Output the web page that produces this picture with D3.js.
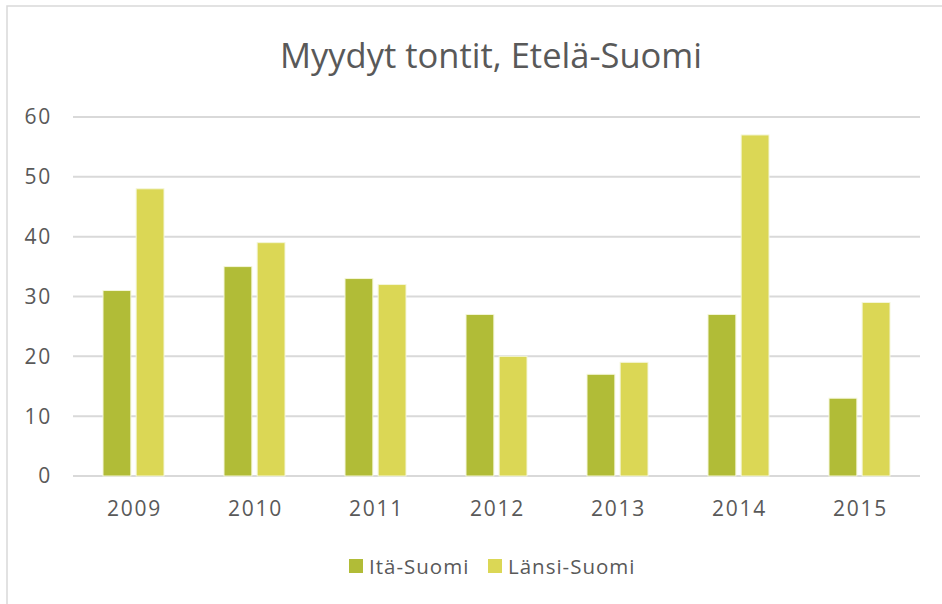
<!DOCTYPE html>
<html>
<head>
<meta charset="utf-8">
<script src="https://cdn.jsdelivr.net/npm/d3@7"></script>
<style>
  html, body { margin: 0; padding: 0; background: #fff; }
  svg { display: block; font-family: "Open Sans", "Noto Sans", sans-serif; }
</style>
</head>
<body>
<svg id="chart" width="942" height="604"></svg>
<script>
const years = ['2009', '2010', '2011', '2012', '2013', '2014', '2015'];
const seriesNames = ['Itä-Suomi', 'Länsi-Suomi'];
const itaSuomi = [31, 35, 33, 27, 17, 27, 13];
const lansiSuomi = [48, 39, 32, 20, 19, 57, 29];
const yTicks = [0, 10, 20, 30, 40, 50, 60];
const colors = ['#b1bc37', '#dbd755'];

const svg = d3.select('#chart');
const textColor = '#595959';

// outer frame
svg.append('rect')
  .attr('x', 7).attr('y', 6)
  .attr('width', 960).attr('height', 620)
  .attr('fill', 'none')
  .attr('stroke', '#d9d9d9')
  .attr('stroke-width', 1.5);

svg.append('text')
  .attr('x', 491).attr('y', 68)
  .attr('text-anchor', 'middle')
  .attr('fill', textColor)
  .attr('font-size', 34.5)
  .text('Myydyt tontit, Etelä-Suomi');

const x0 = d3.scaleBand().domain(years).range([73, 920])
  .paddingInner(0.496).paddingOuter(0.248);
const x1 = d3.scaleBand().domain(seriesNames).range([0, x0.bandwidth()])
  .paddingInner(0.16);
const y = d3.scaleLinear().domain([0, 60]).range([476, 117]);

// gridlines
svg.append('g')
  .selectAll('line')
  .data(yTicks)
  .join('line')
  .attr('x1', 73).attr('x2', 920)
  .attr('y1', d => y(d)).attr('y2', d => y(d))
  .attr('stroke', '#d9d9d9')
  .attr('stroke-width', 2);

// y labels
svg.append('g')
  .selectAll('text')
  .data(yTicks)
  .join('text')
  .attr('x', 52)
  .attr('y', d => y(d))
  .attr('dy', '0.35em')
  .attr('text-anchor', 'end')
  .attr('fill', textColor)
  .attr('font-size', 21)
  .attr('letter-spacing', 1.8)
  .text(d => d);

const rows = years.map((yr, i) => ({ year: yr, values: [itaSuomi[i], lansiSuomi[i]] }));

svg.append('g')
  .selectAll('g')
  .data(rows)
  .join('g')
  .attr('transform', d => `translate(${x0(d.year)},0)`)
  .selectAll('rect')
  .data(d => d.values.map((v, j) => ({ name: seriesNames[j], value: v, j })))
  .join('rect')
  .attr('x', d => x1(d.name))
  .attr('y', d => y(d.value))
  .attr('width', x1.bandwidth())
  .attr('height', d => y(0) - y(d.value))
  .attr('fill', d => colors[d.j])
  .attr('stroke', '#f4f6d8')
  .attr('stroke-width', 1);

// x labels
svg.append('g')
  .selectAll('text')
  .data(years)
  .join('text')
  .attr('x', d => x0(d) + x0.bandwidth() / 2 + 1)
  .attr('y', 516)
  .attr('text-anchor', 'middle')
  .attr('fill', textColor)
  .attr('font-size', 21)
  .attr('letter-spacing', 1.8)
  .text(d => d);

// legend
const legendX = [349, 488];
const legend = svg.append('g')
  .selectAll('g')
  .data(seriesNames)
  .join('g')
  .attr('transform', (d, i) => `translate(${legendX[i]},559)`);
legend.append('rect')
  .attr('width', 14).attr('height', 14)
  .attr('fill', (d, i) => colors[i]);
legend.append('text')
  .attr('x', 20).attr('y', 15)
  .attr('fill', textColor)
  .attr('font-size', 20.5)
  .attr('letter-spacing', 1)
  .text(d => d);
</script>
</body>
</html>
